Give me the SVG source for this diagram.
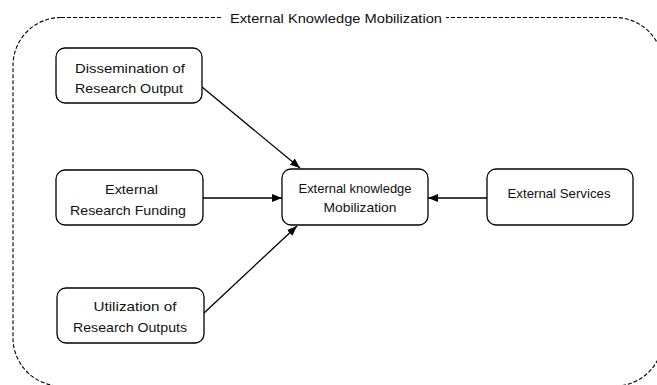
<svg xmlns="http://www.w3.org/2000/svg" width="657" height="385" viewBox="0 0 657 385">
  <style>
    .node rect { fill: #ffffff; stroke: #000000; stroke-width: 1.3; }
    .label { font-family: "Liberation Sans", Arial, sans-serif; font-size: 13px; fill: #111111; text-anchor: middle; }
    .edge { stroke: #000000; stroke-width: 1.3; fill: none; marker-end: url(#arrow); }
    .frame { fill: none; stroke: #000000; stroke-width: 1.1; stroke-dasharray: 4 2; }
  </style>
  <defs>
    <marker id="arrow" viewBox="0 0 10 8" refX="10" refY="4" markerWidth="10" markerHeight="8" markerUnits="userSpaceOnUse" orient="auto">
      <path d="M0,0 L10,4 L0,8 Z" fill="#000000"/>
    </marker>
  </defs>

  <rect width="657" height="385" fill="#ffffff"/>

  <!-- dashed boundary with its title -->
  <g id="boundary">
    <rect class="frame" x="13" y="17.5" width="650" height="368.5" rx="48" ry="48"/>
    <rect x="222" y="8" width="224" height="20" fill="#ffffff"/>
    <text class="label" x="336" y="23" textLength="212" lengthAdjust="spacingAndGlyphs">External Knowledge Mobilization</text>
  </g>

  <!-- connectors -->
  <g id="connectors">
    <line class="edge" x1="202" y1="87" x2="300" y2="168"/>
    <line class="edge" x1="203" y1="198" x2="282" y2="198"/>
    <line class="edge" x1="204" y1="313" x2="297" y2="226"/>
    <line class="edge" x1="487" y1="198" x2="428" y2="198"/>
  </g>

  <g id="dissemination" class="node">
    <rect x="56" y="48" width="146" height="55" rx="9"/>
    <text class="label" x="130" y="73" textLength="110" lengthAdjust="spacingAndGlyphs">Dissemination of</text>
    <text class="label" x="129" y="93" textLength="108" lengthAdjust="spacingAndGlyphs">Research Output</text>
  </g>

  <g id="funding" class="node">
    <rect x="56" y="170" width="147" height="55" rx="9"/>
    <text class="label" x="131.5" y="194" textLength="53" lengthAdjust="spacingAndGlyphs">External</text>
    <text class="label" x="128" y="215" textLength="116" lengthAdjust="spacingAndGlyphs">Research Funding</text>
  </g>

  <g id="utilization" class="node">
    <rect x="57" y="288" width="147" height="55" rx="9"/>
    <text class="label" x="135" y="311" textLength="83" lengthAdjust="spacingAndGlyphs">Utilization of</text>
    <text class="label" x="130" y="332" textLength="114" lengthAdjust="spacingAndGlyphs">Research Outputs</text>
  </g>

  <g id="mobilization" class="node">
    <rect x="282" y="169" width="146" height="56" rx="9"/>
    <text class="label" x="355" y="193" textLength="113" lengthAdjust="spacingAndGlyphs">External knowledge</text>
    <text class="label" x="360" y="212" textLength="73" lengthAdjust="spacingAndGlyphs">Mobilization</text>
  </g>

  <g id="services" class="node">
    <rect x="487" y="169" width="146" height="56" rx="9"/>
    <text class="label" x="559" y="198" textLength="103" lengthAdjust="spacingAndGlyphs">External Services</text>
  </g>
</svg>
